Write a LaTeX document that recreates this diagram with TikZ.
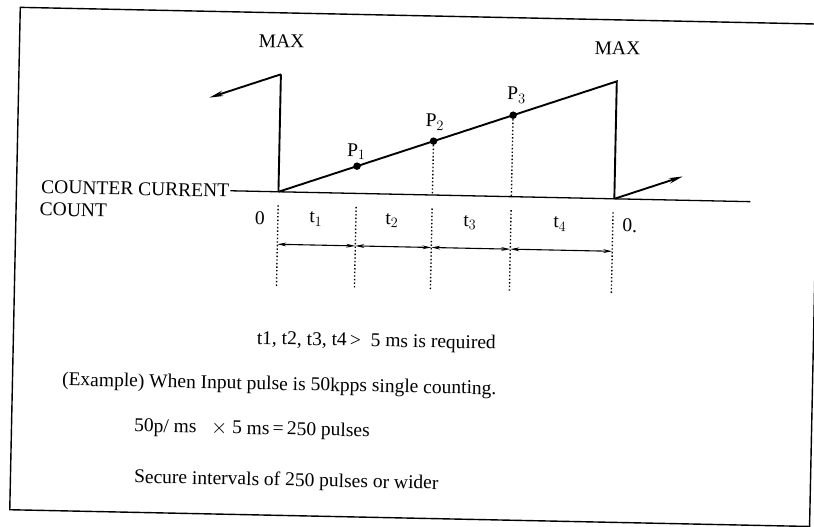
\documentclass[tikz,border=0pt]{standalone}
\usepackage{fontspec}
\setmainfont{Liberation Serif}
\usetikzlibrary{arrows.meta}
\begin{document}
\begin{tikzpicture}[x=1pt,y=-1pt,
  lbl/.style={inner sep=0pt,font=\fontsize{19.5}{22}\selectfont},
  txt/.style={inner sep=0pt,anchor=west,font=\fontsize{19.5}{22}\selectfont},
  wave/.style={line width=1.9pt,line join=miter},
  axis/.style={line width=1.3pt},
  frame/.style={line width=1.4pt},
  dotl/.style={line width=1.4pt,dash pattern=on 1.4pt off 2.2pt},
  bigarrow/.style={line width=1.9pt,-{Stealth[length=14pt,width=5.5pt]}},
  dim/.style={line width=1.1pt,{Stealth[length=9pt,width=3.8pt]}-{Stealth[length=9pt,width=3.8pt]}},
  pdot/.style={circle,fill=black,inner sep=0pt,minimum size=7.5pt}]
\useasboundingbox (0,0) rectangle (814,527);
\begin{scope}[rotate around={-1.2:(407,263)},transform shape]
  % frame
  \draw[frame] (15,15.5) rectangle (815,518);
  % axis
  \coordinate (bl) at (229,194.5);
  \coordinate (br) at (749,194.5);
  \draw[axis] (bl) -- (br);
  % wave
  \coordinate (z0) at (277,194.5);
  \coordinate (top1) at (277,77);
  \coordinate (top2) at (613,77);
  \coordinate (z1) at (613,194.5);
  \coordinate (la) at (206,101.8);
  \coordinate (ra) at (681,170.7);
  \draw[wave] (z0) -- (top2) -- (z1);
  \draw[wave] (z0) -- (top1);
  \draw[bigarrow] (top1) -- (la);
  \draw[bigarrow] (z1) -- (ra);
  % points
  \node[pdot] (p1) at (355,167.2) {};
  \node[pdot] (p2) at (431,140.6) {};
  \node[pdot] (p3) at (510,113.0) {};
  \node[lbl] (lp1) at (354,153) {P$_1$};
  \node[lbl] (lp2) at (432,121.5) {P$_2$};
  \node[lbl] (lp3) at (513,93) {P$_3$};
  \coordinate (b2) at (431,194.5);
  \coordinate (b3) at (510,194.5);
  \draw[dotl] (p2) -- (b2);
  \draw[dotl] (p3) -- (b3);
  % lower dotted lines and dimension arrows
  \foreach \n/\x in {0/277,1/355,2/431,3/510,4/612}{
    \coordinate (u\n) at (\x,208);
    \coordinate (v\n) at (\x,290);
    \coordinate (a\n) at (\x,247);
    \draw[dotl] (u\n) -- (v\n);
  }
  \draw[dim] (a0) -- (a1);
  \draw[dim] (a1) -- (a2);
  \draw[dim] (a2) -- (a3);
  \draw[dim] (a3) -- (a4);
  % interval labels
  \node[lbl] (l0) at (259,221) {0};
  \node[lbl] (t1) at (315,221) {t$_1$};
  \node[lbl] (t2) at (391,221) {t$_2$};
  \node[lbl] (t3) at (469,221) {t$_3$};
  \node[lbl] (t4) at (559,221) {t$_4$};
  \node[lbl] (l1) at (629,221) {0.};
  % MAX labels
  \node[lbl] (max1) at (277,44) {MAX};
  \node[lbl] (max2) at (613,44) {MAX};
  % axis label
  \node[lbl,anchor=east,inner xsep=1pt] (ccc) at (bl) {COUNTER CURRENT};
  \node[lbl,anchor=north west] (cnt) at ([yshift=-9pt]ccc.south west) {COUNT};
  % text lines
  \node[lbl] (req) at (378,342.6) {t1, t2, t3, t4\,{>}\ \ 5 ms is required};
  \node[txt] (ex) at (64.5,388) {(Example) When Input pulse is 50kpps single counting.};
  \node[txt] (calc) at (137.5,432.7) {50p/ ms\ \ \ $\times$ 5 ms\,=\,250 pulses};
  \node[txt] (sec) at (138.5,483.7) {Secure intervals of 250 pulses or wider};
\end{scope}
\end{tikzpicture}
\end{document}
